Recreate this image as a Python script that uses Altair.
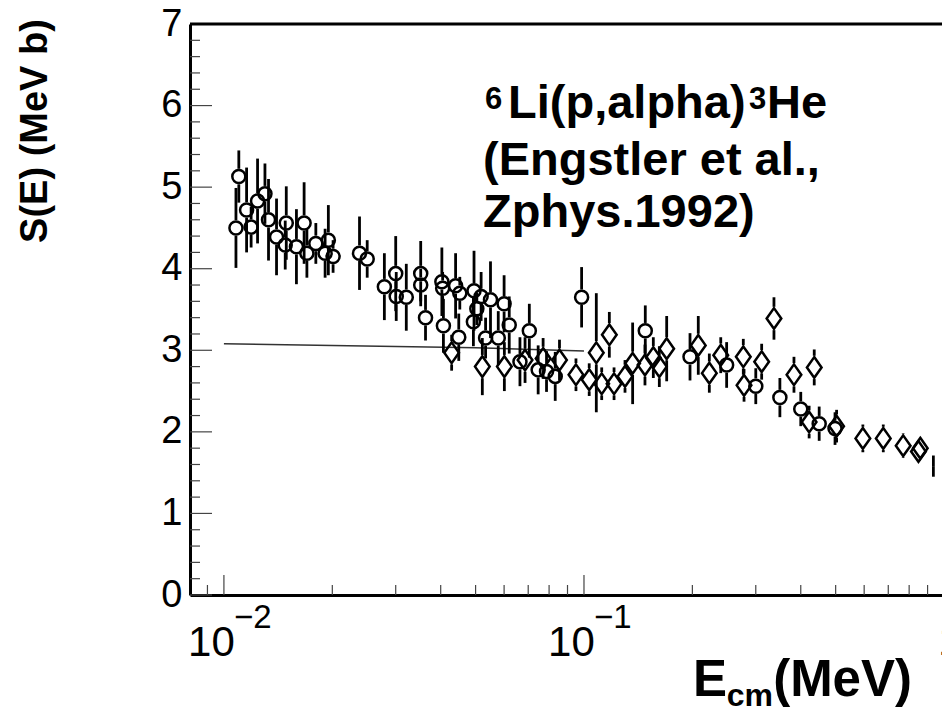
import altair as alt
import pandas as pd

# ---------------- data ----------------
# open circles: E (MeV), S (MeV b), error
circ_e = [0.0108, 0.0110, 0.01156, 0.0119, 0.0124, 0.0130, 0.0133, 0.0140, 0.0149, 0.0148,
          0.0159, 0.0167, 0.0170, 0.0180, 0.0195, 0.0191, 0.0201, 0.0238, 0.0250, 0.0279,
          0.0300, 0.0301, 0.0321, 0.0352, 0.0352, 0.0363, 0.0403, 0.0405, 0.0407, 0.0440,
          0.0452, 0.0449, 0.0495, 0.0504, 0.0493, 0.0518, 0.0550, 0.0533, 0.0578, 0.0600,
          0.0620, 0.0705, 0.0664, 0.0746, 0.0787, 0.0832, 0.0985, 0.148, 0.197, 0.249,
          0.300, 0.350, 0.400, 0.450, 0.498]
circ_s = [4.50, 5.13, 4.72, 4.51, 4.83, 4.92, 4.60, 4.39, 4.56, 4.29,
          4.27, 4.56, 4.19, 4.31, 4.35, 4.19, 4.15, 4.19, 4.12, 3.78,
          3.94, 3.66, 3.65, 3.94, 3.80, 3.40, 3.84, 3.76, 3.30, 3.79,
          3.70, 3.16, 3.73, 3.51, 3.35, 3.66, 3.62, 3.15, 3.15, 3.57,
          3.31, 3.24, 2.86, 2.76, 2.74, 2.68, 3.65, 3.24, 2.92, 2.82,
          2.56, 2.42, 2.28, 2.10, 2.04]
circ_err = [0.49, 0.32, 0.52, 0.25, 0.52, 0.37, 0.50, 0.47, 0.45, 0.30,
            0.46, 0.50, 0.30, 0.25, 0.43, 0.30, 0.20, 0.45, 0.23, 0.41,
            0.46, 0.30, 0.41, 0.40, 0.20, 0.28, 0.42, 0.20, 0.33, 0.40,
            0.20, 0.29, 0.49, 0.20, 0.30, 0.30, 0.47, 0.25, 0.33, 0.35,
            0.35, 0.33, 0.30, 0.30, 0.25, 0.30, 0.37, 0.31, 0.29, 0.28,
            0.22, 0.24, 0.21, 0.21, 0.20]

# open diamonds
diam_e = [0.0429, 0.0522, 0.0601, 0.0686, 0.0770, 0.0855, 0.0950, 0.1034, 0.1082, 0.1120,
          0.1176, 0.1212, 0.130, 0.1365, 0.1477, 0.1558, 0.1619, 0.1697, 0.2077, 0.2229,
          0.2398, 0.277, 0.2783, 0.3115, 0.337, 0.383, 0.422, 0.436, 0.503, 0.595,
          0.678, 0.770, 0.849, 0.859]
diam_s = [2.97, 2.80, 2.80, 2.88, 2.90, 2.88, 2.70, 2.64, 2.97, 2.59,
          3.19, 2.59, 2.68, 2.84, 2.82, 2.91, 2.80, 3.02, 3.06, 2.72,
          2.94, 2.92, 2.57, 2.86, 3.39, 2.70, 2.12, 2.79, 2.07, 1.92,
          1.92, 1.83, 1.76, 1.80]
diam_err = [0.22, 0.35, 0.30, 0.28, 0.25, 0.25, 0.20, 0.20, 0.73, 0.20,
            0.28, 0.20, 0.20, 0.50, 0.25, 0.25, 0.25, 0.40, 0.36, 0.24,
            0.22, 0.22, 0.20, 0.22, 0.26, 0.22, 0.20, 0.22, 0.20, 0.17,
            0.17, 0.15, 0.12, 0.12]

# error bar whose marker is not visible
bar_e = [0.934]
bar_s = [1.58]
bar_err = [0.13]

# thin reference line
line_e = [0.01, 0.02, 0.05, 0.1]
line_s = [3.08, 3.06, 3.03, 2.99]

# axis ticks and labels
x_major = [0.01, 0.1]
x_minor = [0.009, 0.02, 0.03, 0.04, 0.05, 0.06, 0.07, 0.08, 0.09,
           0.2, 0.3, 0.4, 0.5, 0.6, 0.7, 0.8, 0.9]
x_exp_vals = [0.01, 0.1]
x_exp_text = ["\u22122", "\u22121"]
y_major = [0, 1, 2, 3, 4, 5, 6, 7]
y_minor = [0.2, 0.4, 0.6, 0.8, 1.2, 1.4, 1.6, 1.8, 2.2, 2.4, 2.6, 2.8,
           3.2, 3.4, 3.6, 3.8, 4.2, 4.4, 4.6, 4.8, 5.2, 5.4, 5.6, 5.8,
           6.2, 6.4, 6.6, 6.8]

# ---------------- layout ----------------
W, H = 752, 571
XDOM = [0.00805, 0.987]
YDOM = [0, 7]
FONT = "Liberation Sans"

xscale = alt.Scale(type="log", domain=XDOM, nice=False)
yscale = alt.Scale(domain=YDOM, nice=False, zero=False)

xaxis = alt.Axis(values=x_major, labelExpr="'10'", ticks=False, tickSize=0, grid=False,
                 domainColor="black", domainWidth=3, labelFontSize=42, labelFont=FONT,
                 labelColor="black", labelPadding=60, labelBaseline="alphabetic",
                 labelOffset=-13, labelFlush=False, labelOverlap=False, title=None)
yaxis = alt.Axis(values=y_major, format="d", ticks=False, tickSize=0, grid=False,
                 domainColor="black", domainWidth=3, labelFontSize=38, labelFont=FONT,
                 labelColor="black", labelPadding=8, labelBaseline="middle",
                 labelFlush=False, labelOverlap=False, title=None)


def X(field="e"):
    return alt.X(f"{field}:Q", scale=xscale, axis=xaxis)


def Y(field="s"):
    return alt.Y(f"{field}:Q", scale=yscale, axis=yaxis)


def segments(E, S, ERR, gap):
    rows = []
    for e, s, er in zip(E, S, ERR):
        if er > gap:
            rows.append({"e": e, "a": s + gap, "b": s + er})
            rows.append({"e": e, "a": s - er, "b": s - gap})
    return rows


circ_df = pd.DataFrame({"e": circ_e, "s": circ_s})
diam_df = pd.DataFrame({"e": diam_e, "s": diam_s})
seg_df = pd.DataFrame(segments(circ_e, circ_s, circ_err, 0.095)
                      + segments(diam_e, diam_s, diam_err, 0.143)
                      + segments(bar_e, bar_s, bar_err, 0.0))
line_df = pd.DataFrame({"e": line_e, "s": line_s})
one = pd.DataFrame({"k": [0]})

# inward ticks
xmaj = alt.Chart(pd.DataFrame({"e": x_major})).mark_rule(color="#444", strokeWidth=1.2).encode(
    x=X(), y=alt.value(H), y2=alt.value(H - 20))
xmin = alt.Chart(pd.DataFrame({"e": x_minor})).mark_rule(color="#444", strokeWidth=1.2).encode(
    x=X(), y=alt.value(H), y2=alt.value(H - 10))
ymaj = alt.Chart(pd.DataFrame({"s": y_major})).mark_rule(color="#444", strokeWidth=1.2).encode(
    y=Y(), x=alt.value(0), x2=alt.value(22))
ymin = alt.Chart(pd.DataFrame({"s": y_minor})).mark_rule(color="#444", strokeWidth=1.2).encode(
    y=Y(), x=alt.value(0), x2=alt.value(10))

top_frame = alt.Chart(one).mark_rule(color="black", strokeWidth=3).encode(
    x=alt.value(0), x2=alt.value(W), y=alt.value(0))

exps = alt.Chart(pd.DataFrame({"e": x_exp_vals, "t": x_exp_text})).mark_text(
    align="left", baseline="alphabetic", fontSize=33, font=FONT, color="black", dx=10).encode(
    x=X(), y=alt.value(H + 33), text="t:N")
one_lbl = alt.Chart(pd.DataFrame({"e": [1.0], "t": ["1"]})).mark_text(
    align="center", baseline="alphabetic", fontSize=42, font=FONT, color="black", dx=6).encode(
    x=X(), y=alt.value(H + 60), text="t:N")

ref_line = alt.Chart(line_df).mark_line(color="#333", strokeWidth=1.5).encode(x=X(), y=Y())

bars = alt.Chart(seg_df).mark_rule(color="black", strokeWidth=2.8).encode(
    x=X(), y=Y("a"), y2="b:Q")

circles = alt.Chart(circ_df).mark_point(shape="circle", filled=False, color="black",
                                        strokeWidth=2.5, size=170, opacity=1).encode(x=X(), y=Y())
diamonds = alt.Chart(diam_df).mark_point(shape="M0,-1L0.707,0L0,1L-0.707,0Z", filled=False,
                                         color="black", strokeWidth=2.5, size=430,
                                         opacity=1).encode(x=X(), y=Y())


def txt(t, x, y, size, bold=True, align="left", angle=0, baseline="alphabetic"):
    kw = dict(align=align, baseline=baseline, fontSize=size, font=FONT, color="black",
              fontWeight="bold" if bold else "normal")
    if angle:
        kw["angle"] = angle
    return alt.Chart(pd.DataFrame({"t": [t]})).mark_text(**kw).encode(
        x=alt.value(x), y=alt.value(y), text="t:N")


# annotation (plot coords = page coords minus (190, 24))
ann = [
    txt("6", 295, 85, 31),
    txt("Li(p,alpha)", 318, 94, 47),
    txt("3", 559, 85, 31),
    txt("He", 577, 94, 47),
    txt("(Engstler et al.,", 293, 151, 47),
    txt("Zphys.1992)", 293, 203, 47),
    # x title
    txt("(MeV)", 722, 672, 51, align="right"),
    txt("cm", 583, 682, 32, align="right"),
    txt("E", 537, 672, 51, align="right"),
    # y title
    txt("S(E) (MeV b)", -143, 107, 38, align="center", angle=270),
]

chart = alt.layer(
    xmin, xmaj, ymin, ymaj, ref_line, bars, circles, diamonds, top_frame, exps, one_lbl, *ann
).properties(
    width=W, height=H,
    autosize=alt.AutoSizeParams(type="none"),
    padding={"left": 190, "top": 24, "right": 0, "bottom": 118},
    background="white",
).configure_view(stroke=None).configure(font=FONT)

chart.save("out.html", embed_options={"renderer": "svg", "actions": False})
